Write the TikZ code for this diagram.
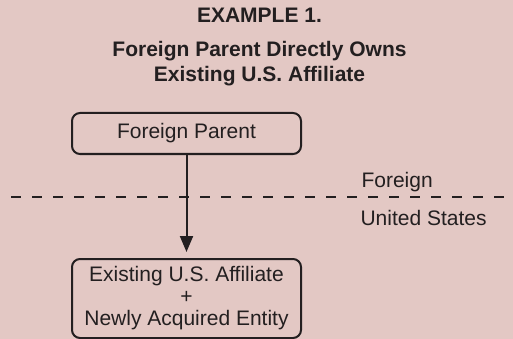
\documentclass[tikz,border=0pt]{standalone}
\usepackage{fontspec}
\setmainfont{Liberation Sans}
\usetikzlibrary{arrows.meta}
\definecolor{bgpink}{RGB}{227,200,196}
\definecolor{ink}{RGB}{35,31,32}
\begin{document}
\begin{tikzpicture}[x=1pt,y=-1pt,
		every node/.style={text=ink,font=\fontsize{21}{22}\selectfont},
		entity/.style={draw=ink,line width=2pt,rounded corners=8pt,inner sep=0pt,
			minimum width=229pt,align=center},
		title/.style={anchor=base,font=\bfseries\fontsize{21}{22}\selectfont}]
				\useasboundingbox (0,0) rectangle (513,339);
				\fill[bgpink] (0,0) rectangle (513,339);
				% heading
				\node[title] (head) at (259.5,22.7) {EXAMPLE 1.};
				\node[title] (headb) at (259.5,56.7) {Foreign Parent Directly Owns};
				\node[title] (headc) at (259.5,81.7) {Existing U.S. Affiliate};
				% border between the two countries
				\coordinate (westend) at (11,197);
				\coordinate (eastend) at (513,197);
				\draw[ink,line width=2pt,dash pattern=on 10pt off 11pt] (westend)--(eastend);
				\node[anchor=base west] (foreign) at (358,187) {Foreign};
				\node[anchor=base west] (us) at (357,225) {United States};
				% entities
				\node[entity,minimum height=41pt] (parent) at (186.5,133.5) {Foreign Parent};
				\node[entity,minimum height=79pt] (affiliate) at (186.5,298.5)
					{Existing U.S. Affiliate\\+\\Newly Acquired Entity};
				\draw[ink,line width=2pt,-{Triangle[length=16pt,width=13pt]},shorten >=6pt]
					(parent)--(affiliate);
			\end{tikzpicture}
\end{document}
